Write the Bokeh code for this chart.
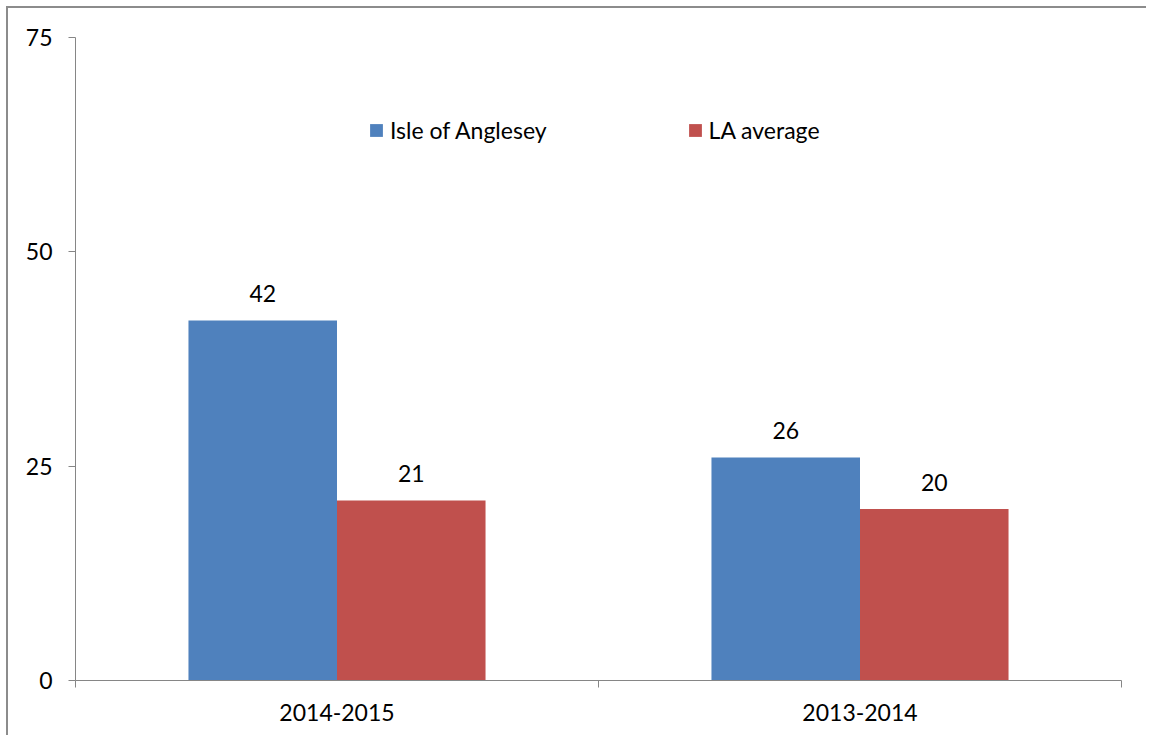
from bokeh.plotting import figure
from bokeh.models import ColumnDataSource, FixedTicker, Legend, LegendItem, Range1d
from bokeh.core.properties import value
from bokeh.embed import file_html
from bokeh.resources import INLINE

categories = ["2014-2015", "2013-2014"]
series_names = ["Isle of Anglesey", "LA average"]
anglesey = [42, 26]
la_average = [21, 20]
y_ticks = [0, 25, 50, 75]

FONT = "Lato"
FS = "23px"
BLUE = "#4F81BD"
RED = "#C0504D"
AXIS = "#868686"

p = figure(width=1140, height=729, output_backend="svg", toolbar_location=None,
           x_range=Range1d(0, len(categories)), y_range=Range1d(0, 75),
           min_border_left=67, min_border_right=27, min_border_top=29, min_border_bottom=57)
p.styles = {"margin-left": "8px", "margin-top": "8px", "box-shadow": "-2px -2px 0 0 #8c8c8c"}
p.outline_line_color = None
p.grid.grid_line_color = None
p.background_fill_color = "white"
p.border_fill_color = "white"

bw = 0.284
idx = list(range(len(categories)))
src_a = ColumnDataSource(dict(x=[i + 0.5 - bw / 2 for i in idx], top=anglesey,
                              lab=[str(v) for v in anglesey]))
src_b = ColumnDataSource(dict(x=[i + 0.5 + bw / 2 for i in idx], top=la_average,
                              lab=[str(v) for v in la_average]))

r_a = p.vbar(x="x", top="top", width=bw, bottom=0, source=src_a, fill_color=BLUE, line_color=None)
r_b = p.vbar(x="x", top="top", width=bw, bottom=0, source=src_b, fill_color=RED, line_color=None)

for src in (src_a, src_b):
    p.text(x="x", y="top", text="lab", source=src, text_font=value(FONT), text_font_size=FS,
           text_align="center", text_baseline="middle", y_offset=-27, text_color="black")

# x axis
p.xaxis.ticker = FixedTicker(ticks=[i + 0.5 for i in idx], minor_ticks=list(range(len(categories) + 1)))
p.xaxis.major_label_overrides = {i + 0.5: c for i, c in zip(idx, categories)}
p.xaxis.major_tick_line_color = None
p.xaxis.major_tick_out = 0
p.xaxis.major_tick_in = 0
p.xaxis.minor_tick_out = 7
p.xaxis.minor_tick_in = 0
p.xaxis.minor_tick_line_color = AXIS
p.xaxis.axis_line_color = AXIS
p.xaxis.major_label_standoff = 16
p.xaxis.major_label_text_font = FONT
p.xaxis.major_label_text_font_size = FS
p.xaxis.major_label_text_color = "black"

# y axis
p.yaxis.ticker = FixedTicker(ticks=y_ticks)
p.yaxis.minor_tick_line_color = None
p.yaxis.major_tick_out = 7
p.yaxis.major_tick_in = 0
p.yaxis.major_tick_line_color = AXIS
p.yaxis.axis_line_color = AXIS
p.yaxis.major_label_standoff = 16
p.yaxis.major_label_text_font = FONT
p.yaxis.major_label_text_font_size = FS
p.yaxis.major_label_text_color = "black"

legend = Legend(items=[LegendItem(label=series_names[0], renderers=[r_a]),
                       LegendItem(label=series_names[1], renderers=[r_b])],
                orientation="horizontal", location=(293, 536), padding=0, margin=0,
                spacing=140, label_standoff=6, glyph_width=16, glyph_height=16,
                label_height=20, label_text_font=FONT, label_text_font_size=FS,
                label_text_color="black", border_line_color=None, background_fill_alpha=0)
p.add_layout(legend, "center")

open("out.html", "w").write(file_html(p, INLINE))
